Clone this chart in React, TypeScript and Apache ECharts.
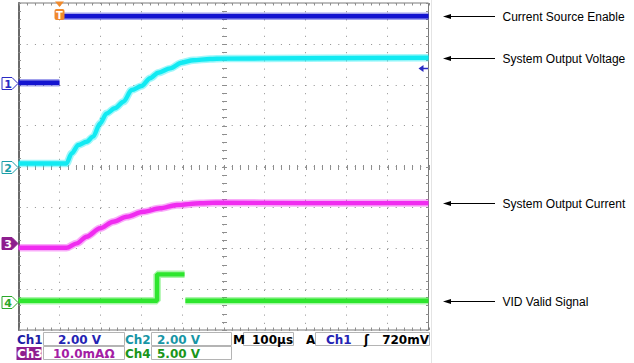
import React, { useEffect, useRef } from "react";
import * as echarts from "echarts";

// ---- Time base (µs, relative to trigger), 100 µs/div ----
const timeMin = -100;
const timeMax = 900;
const timePerDiv = 100;
const divsY = 4; // ±4 vertical divisions

// ---- Channel settings ----
const channelNames = ["Ch1", "Ch2", "Ch3", "Ch4"];
const channelScales = [2, 2, 10, 5]; // units per division
const channelUnits = ["V", "V", "mAΩ", "V"];
const channelOffsets = [2.05, 0, -1.88, -3.31]; // ground-marker position, divisions
const channelColors = ["#1414d0", "#12eaf2", "#f02cf0", "#2ee62e"];
const markerColors = ["#2a2ac4", "#1a9ea8", "#8e1e8e", "#2aa82a"];

// ---- Ch1: Current Source Enable (V) ----
const ch1Time = [-100, 0, 0, 0, 900];
const ch1Volts = [0, 0, null, 3.25, 3.25];

// ---- Ch2: System Output Voltage (V) ----
const ch2Time = [-100, 17, 30, 46, 66, 82, 99, 115, 135, 156, 176, 200, 221, 241, 270, 298, 326, 367, 400, 600, 900];
const ch2Volts = [0.15, 0.15, 0.65, 1.05, 1.21, 1.46, 2.11, 2.6, 2.85, 3.17, 3.74, 3.94, 4.32, 4.59, 4.8, 5.08, 5.2, 5.26, 5.28, 5.3, 5.32];

// ---- Ch3: System Output Current ----
const ch3Time = [-100, 17, 42, 66, 99, 131, 164, 204, 245, 286, 343, 383, 600, 900];
const ch3Current = [-1.07, -1.07, 0.0, 1.63, 3.68, 5.3, 6.52, 7.74, 8.57, 9.38, 9.8, 9.95, 9.85, 9.85];

// ---- Ch4: VID Valid Signal (V) ----
const ch4Time = [-100, 238, 238, 305, 305, 307, 900];
const ch4Volts = [0.13, 0.13, 3.36, 3.36, null, 0.13, 0.13];

// ---- Trigger ----
const triggerTime = 0;
const triggerLevel = 0.72; // V on Ch1
const triggerLevelText = "720mV";
const timebaseText = "100µs";

// ---- Annotations ----
const annotationLabels = ["Current Source Enable", "System Output Voltage", "System Output Current", "VID Valid Signal"];

const toDiv = (ch: number, v: number | null) =>
  v == null ? "-" : channelOffsets[ch] + v / channelScales[ch];
const pairs = (ch: number, ts: number[], vs: (number | null)[]) =>
  ts.map((t, i) => [t, toDiv(ch, vs[i])]);

const ch1Data = pairs(0, ch1Time, ch1Volts);
const ch2Data = pairs(1, ch2Time, ch2Volts);
const ch3Data = pairs(2, ch3Time, ch3Current);
const ch4Data = pairs(3, ch4Time, ch4Volts);

const annotationLevels = [
  toDiv(0, ch1Volts[ch1Volts.length - 1]),
  toDiv(1, ch2Volts[ch2Volts.length - 1]),
  toDiv(2, ch3Current[ch3Current.length - 1]),
  toDiv(3, ch4Volts[ch4Volts.length - 1]),
];

const xMinor: number[] = [];
for (let t = timeMin; t <= timeMax; t += timePerDiv / 5) xMinor.push(t);
const yMinor: number[] = [];
for (let k = -divsY * 5; k <= divsY * 5; k++) yMinor.push(k / 5);

function traceSeries(ch: number, data: any[], smooth: number | boolean) {
  const base = {
    type: "line",
    data,
    showSymbol: false,
    symbol: "none",
    smooth,
    smoothMonotone: "x",
    connectNulls: false,
    silent: true,
  };
  return [
    { ...base, z: 3, lineStyle: { color: channelColors[ch], width: 7.5, opacity: 0.4 } },
    { ...base, z: 4, lineStyle: { color: channelColors[ch], width: 4.4, opacity: 1 } },
  ];
}

const gridColor = "#8e8e8e";

const graticuleSeries = {
  type: "custom",
  coordinateSystem: "cartesian2d",
  clip: false,
  silent: true,
  z: 2,
  data: [[timeMin, 0]],
  renderItem: (_params: any, api: any) => {
    const children: any[] = [];
    const top = api.coord([timeMin, divsY])[1];
    const bottom = api.coord([timeMin, -divsY])[1];
    const left = api.coord([timeMin, 0])[0];
    const right = api.coord([timeMax, 0])[0];
    const cx = Math.round(api.coord([(timeMin + timeMax) / 2, 0])[0]) + 0.5;
    const cy = Math.round(api.coord([timeMin, 0])[1]) + 0.5;
    const st = { stroke: gridColor, lineWidth: 1 };
    xMinor.forEach((t) => {
      const x = Math.round(api.coord([t, 0])[0]) + 0.5;
      children.push({ type: "line", shape: { x1: x, y1: top, x2: x, y2: top + 2.5 }, style: st });
      children.push({ type: "line", shape: { x1: x, y1: bottom - 2.5, x2: x, y2: bottom }, style: st });
      children.push({ type: "line", shape: { x1: x, y1: cy - 2.5, x2: x, y2: cy + 2.5 }, style: st });
    });
    yMinor.forEach((v) => {
      const y = Math.round(api.coord([timeMin, v])[1]) + 0.5;
      children.push({ type: "line", shape: { x1: left, y1: y, x2: left + 2.5, y2: y }, style: st });
      children.push({ type: "line", shape: { x1: right - 2.5, y1: y, x2: right, y2: y }, style: st });
      children.push({ type: "line", shape: { x1: cx - 2.5, y1: y, x2: cx + 2.5, y2: y }, style: st });
    });
    return { type: "group", children };
  },
};

const markerSeries = {
  type: "custom",
  coordinateSystem: "cartesian2d",
  clip: false,
  silent: true,
  z: 10,
  data: channelOffsets.map((o) => [timeMin, o]),
  renderItem: (params: any, api: any) => {
    const i = params.dataIndex;
    const p = api.coord([api.value(0), api.value(1)]);
    const x = p[0];
    const y = Math.round(p[1]) + 0.5;
    const filled = i === 2;
    const c = markerColors[i];
    return {
      type: "group",
      children: [
        {
          type: "polygon",
          shape: { points: [[x - 16.5, y - 6], [x - 6.5, y - 6], [x - 0.5, y], [x - 6.5, y + 6], [x - 16.5, y + 6]] },
          style: { fill: filled ? c : "#ffffff", stroke: c, lineWidth: 1 },
        },
        {
          type: "text",
          style: {
            text: String(i + 1), x: x - 10.5, y: y + 0.5, align: "center", verticalAlign: "middle",
            fill: filled ? "#ffffff" : c, font: 'bold 11px "DejaVu Sans"',
          },
        },
      ],
    };
  },
};

const triggerSeries = {
  type: "custom",
  coordinateSystem: "cartesian2d",
  clip: false,
  silent: true,
  z: 11,
  data: [[triggerTime, divsY]],
  renderItem: (_params: any, api: any) => {
    const p = api.coord([api.value(0), api.value(1)]);
    const x = p[0];
    const y = p[1];
    const orange = "#f08a2c";
    return {
      type: "group",
      children: [
        { type: "polygon", shape: { points: [[x - 4.5, y - 1.5], [x + 4.5, y - 1.5], [x, y + 4]] }, style: { fill: orange } },
        { type: "rect", shape: { x: x - 5, y: y + 6, width: 10, height: 11, r: 2 }, style: { fill: orange } },
        {
          type: "text",
          style: { text: "T", x: x, y: y + 12, align: "center", verticalAlign: "middle", fill: "#ffffff", font: 'bold 10px "DejaVu Sans"' },
        },
      ],
    };
  },
};

const triggerLevelSeries = {
  type: "custom",
  coordinateSystem: "cartesian2d",
  clip: false,
  silent: true,
  z: 11,
  data: [[timeMax, toDiv(0, triggerLevel)]],
  renderItem: (_params: any, api: any) => {
    const p = api.coord([api.value(0), api.value(1)]);
    const x = p[0];
    const y = Math.round(p[1]) + 0.5;
    const c = "#2a2ac4";
    return {
      type: "group",
      children: [
        { type: "polygon", shape: { points: [[x - 10, y], [x - 5, y - 3.5], [x - 5, y + 3.5]] }, style: { fill: c } },
        { type: "line", shape: { x1: x - 6, y1: y, x2: x - 0.5, y2: y }, style: { stroke: c, lineWidth: 1.5 } },
      ],
    };
  },
};

const annotationSeries = {
  type: "custom",
  coordinateSystem: "cartesian2d",
  clip: false,
  silent: true,
  z: 11,
  data: annotationLevels.map((v) => [timeMax, v]),
  renderItem: (params: any, api: any) => {
    const i = params.dataIndex;
    const p = api.coord([api.value(0), api.value(1)]);
    const x = p[0];
    const y = Math.round(p[1]) + 0.5;
    const tip = x + 14.5;
    return {
      type: "group",
      children: [
        { type: "line", shape: { x1: tip + 6, y1: y, x2: x + 66.5, y2: y }, style: { stroke: "#000000", lineWidth: 1 } },
        { type: "polygon", shape: { points: [[tip, y], [tip + 8, y - 2.5], [tip + 8, y + 2.5]] }, style: { fill: "#000000" } },
        {
          type: "text",
          style: {
            text: annotationLabels[i], x: x + 74, y: y, align: "left", verticalAlign: "middle",
            fill: "#000000", font: '12px "Liberation Sans", Arial, sans-serif',
          },
        },
      ],
    };
  },
};

const sFont = 'bold 12px "DejaVu Sans", sans-serif';
const row1 = 339.5;
const row2 = 353.5;
const boxStyle = { fill: "#ffffff", stroke: "#b4b4b4", lineWidth: 1 };
const txt = (text: string, x: number, y: number, fill: string, align = "left") => ({
  type: "text",
  x,
  y,
  silent: true,
  style: { text, fill, font: sFont, align, verticalAlign: "middle" },
});
const box = (x: number, y: number, w: number, h: number, style: any = boxStyle) => ({
  type: "rect",
  silent: true,
  shape: { x, y, width: w, height: h },
  style,
});
const scaleText = (i: number) =>
  `${channelScales[i].toFixed(channelScales[i] >= 10 ? 1 : 2)}${channelUnits[i] === "V" ? " V" : channelUnits[i]}`;

const statusGraphics = [
  { type: "line", silent: true, shape: { x1: 431.5, y1: 0, x2: 431.5, y2: 363 }, style: { stroke: "#e4e4e4", lineWidth: 1 } },
  box(43.5, 332.5, 81, 13),
  box(151.5, 332.5, 80, 13),
  box(243.5, 332.5, 50, 13),
  box(315.5, 332.5, 114, 13),
  box(43.5, 346.5, 81, 13),
  box(151.5, 346.5, 80, 13),
  box(16.5, 347, 25, 13, { fill: "#8e1e8e" }),
  txt(channelNames[0], 17, row1, "#1e1ea6"),
  txt(scaleText(0), 58, row1, "#2424b4"),
  txt(channelNames[1], 125, row1, "#1896a6"),
  txt(scaleText(1), 157, row1, "#1896a6"),
  txt("M", 233, row1, "#000000"),
  txt(timebaseText, 252, row1, "#000000"),
  txt("A", 306, row1, "#000000"),
  txt(channelNames[0], 326, row1, "#2424b4"),
  txt("ʃ", 364, row1, "#000000"),
  txt(triggerLevelText, 429, row1, "#000000", "right"),
  txt(channelNames[2], 17, row2, "#ffffff"),
  txt(scaleText(2), 53, row2, "#a41ea4"),
  txt(channelNames[3], 125, row2, "#1a961a"),
  txt(scaleText(3), 157, row2, "#1a961a"),
];

const option: any = {
  animation: false,
  backgroundColor: "#ffffff",
  grid: {
    left: 18.5,
    top: 3,
    width: 410,
    height: 327,
    show: true,
    borderColor: "#7a7a7a",
    borderWidth: 1,
    backgroundColor: "transparent",
  },
  xAxis: {
    type: "value",
    min: timeMin,
    max: timeMax,
    interval: timePerDiv,
    axisLabel: { show: false },
    axisTick: { show: false },
    axisLine: { show: false },
    splitLine: { show: true, lineStyle: { color: gridColor, width: 1, type: [1, 7.2] } },
  },
  yAxis: {
    type: "value",
    min: -divsY,
    max: divsY,
    interval: 1,
    axisLabel: { show: false },
    axisTick: { show: false },
    axisLine: { show: true, onZero: false, lineStyle: { color: "#6a6a6a", width: 2 } },
    splitLine: { show: true, lineStyle: { color: gridColor, width: 1, type: [1, 7.2] } },
  },
  graphic: statusGraphics,
  series: [
    graticuleSeries,
    ...traceSeries(0, ch1Data, false),
    ...traceSeries(1, ch2Data, 0.3),
    ...traceSeries(2, ch3Data, 0.3),
    ...traceSeries(3, ch4Data, false),
    markerSeries,
    triggerSeries,
    triggerLevelSeries,
    annotationSeries,
  ],
};

export default function App() {
  const ref = useRef<HTMLDivElement>(null);
  useEffect(() => {
    document.body.style.margin = "0";
    const chart = echarts.init(ref.current as HTMLDivElement, null, { renderer: "svg" });
    chart.setOption(option);
    return () => chart.dispose();
  }, []);
  return <div ref={ref} style={{ width: 634, height: 363 }} />;
}
